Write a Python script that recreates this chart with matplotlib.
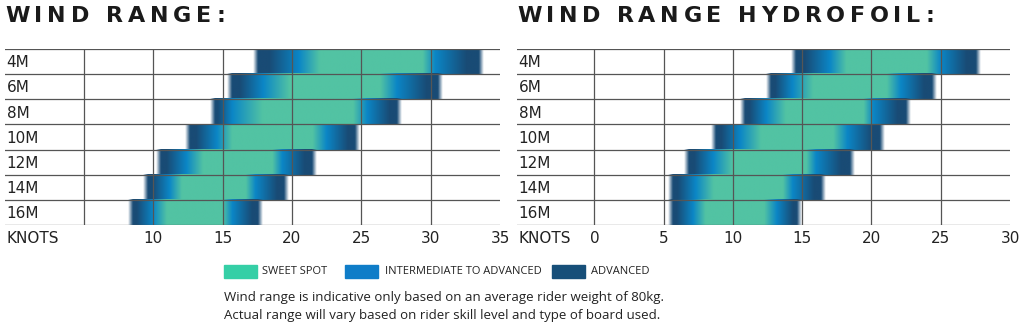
import numpy as np
import matplotlib.pyplot as plt
from matplotlib.colors import to_rgb
from matplotlib.transforms import IdentityTransform

sizes = ['4M', '6M', '8M', '10M', '12M', '14M', '16M']

# kite wind range (knots): outer edge, intermediate peak, sweet spot, ...
kite_start = [17.2, 15.3, 14.1, 12.3, 10.2, 9.3, 8.2]
kite_int_lo = [20.5, 17.9, 15.7, 14.6, 12.4, 11.2, 10.0]
kite_sweet_lo = [22.0, 19.8, 17.9, 15.7, 13.6, 12.1, 11.0]
kite_sweet_hi = [29.4, 26.3, 24.4, 21.5, 18.6, 16.7, 15.0]
kite_int_hi = [30.3, 27.5, 25.4, 22.5, 19.3, 17.4, 15.7]
kite_end = [33.8, 30.8, 27.9, 24.9, 21.8, 19.8, 17.9]

foil_start = [14.2, 12.4, 10.5, 8.4, 6.5, 5.3, 5.3]
foil_int_lo = [17.0, 14.3, 12.4, 10.5, 8.6, 7.3, 7.1]
foil_sweet_lo = [18.2, 15.8, 13.8, 12.0, 10.0, 8.6, 8.0]
foil_sweet_hi = [24.0, 21.1, 19.4, 17.2, 15.3, 13.6, 12.2]
foil_int_hi = [25.0, 22.1, 20.1, 18.2, 16.0, 14.3, 13.1]
foil_end = [27.9, 24.7, 22.8, 20.9, 18.8, 16.7, 14.9]

kite_ticks = [10, 15, 20, 25, 30, 35]
foil_ticks = [0, 5, 10, 15, 20, 25, 30]

dark = to_rgb('#194b75')
blue = to_rgb('#0b86c6')
green = to_rgb('#52c3a3')
txt = '#222222'
gridc = '#555555'


def bar_image(s, il, sl, sh, ih, e, n=600):
    x = np.linspace(s, e, n)
    pos = [s, s + 0.35 * (il - s), il, sl, sh, ih, e - 0.35 * (e - ih), e]
    cols = [dark, dark, blue, green, green, blue, dark, dark]
    rgb = np.stack([np.interp(x, pos, [c[k] for c in cols]) for k in range(3)], axis=-1)
    alpha = np.clip(np.minimum(x - s, e - x) / 0.35, 0, 1)
    return np.concatenate([rgb, alpha[:, None]], axis=1)[None, :, :]


W, H = 1024, 327
fig = plt.figure(figsize=(W / 100, H / 100), dpi=100)


def draw_chart(rect, xlim, lines, ticks, data):
    ax = fig.add_axes(rect)
    for i in range(len(sizes)):
        img = bar_image(*[d[i] for d in data])
        ax.imshow(img, extent=[data[0][i], data[-1][i], i + 1, i], aspect='auto',
                  interpolation='bilinear', zorder=1)
        ax.text(xlim[0] + 0.12, i + 0.55, sizes[i], va='center', ha='left',
                fontsize=11, color=txt)
    for y in range(len(sizes) + 1):
        ax.axhline(y, color=gridc, lw=0.9, zorder=3)
    for v in lines:
        ax.axvline(v, color=gridc, lw=0.9, zorder=3)
    ax.set_xlim(*xlim)
    ax.set_ylim(len(sizes), 0)
    ax.set_yticks([])
    ax.set_xticks(ticks)
    ax.set_xticklabels([str(t) for t in ticks], fontsize=11, color=txt)
    ax.tick_params(axis='x', length=0, pad=4)
    for sp in ax.spines.values():
        sp.set_visible(False)
    ax.text(xlim[0] + 0.12, -0.035, 'KNOTS', transform=ax.get_xaxis_transform(),
            va='top', ha='left', fontsize=11, color=txt)
    return ax


draw_chart([5 / W, 102 / H, 495 / W, 176 / H], (-0.68, 35), [5, 10, 15, 20, 25, 30],
           kite_ticks, [kite_start, kite_int_lo, kite_sweet_lo, kite_sweet_hi, kite_int_hi, kite_end])
draw_chart([517 / W, 102 / H, 493 / W, 176 / H], (-5.58, 30), [0, 5, 10, 15, 20, 25],
           foil_ticks, [foil_start, foil_int_lo, foil_sweet_lo, foil_sweet_hi, foil_int_hi, foil_end])


def spaced_title(x0, ytop, s, target_w, size=16):
    r = fig.canvas.get_renderer()
    widths = []
    for ch in s:
        if ch == ' ':
            widths.append(0)
            continue
        t = fig.text(0, 0, ch, fontsize=size, fontweight='bold', transform=IdentityTransform())
        widths.append(t.get_window_extent(r).width)
        t.remove()
    space_w = size * 100 / 72 * 0.3
    n_sp = s.count(' ')
    gap = (target_w - sum(widths) - n_sp * space_w) / (len(s) - 1)
    x = x0
    for ch, w in zip(s, widths):
        if ch == ' ':
            x += space_w + gap
            continue
        fig.text(x, H - ytop, ch, fontsize=size, fontweight='bold', color='#1a1a1a',
                 va='top', ha='left', transform=IdentityTransform())
        x += w + gap


spaced_title(5, 6, 'WIND RANGE:', 220)
spaced_title(517, 6, 'WIND RANGE HYDROFOIL:', 417)

# legend
leg = [('SWEET SPOT', '#35cfa6', 224, 262), ('INTERMEDIATE TO ADVANCED', '#0f7dc8', 345, 385),
       ('ADVANCED', '#174f79', 552, 591)]
for lab, c, bx, tx in leg:
    fig.patches.append(plt.Rectangle((bx, H - 278), 33, 13, color=c, transform=IdentityTransform()))
    fig.text(tx, H - 271.5, lab, fontsize=8.0, color=txt, va='center', ha='left',
             family='Open Sans', transform=IdentityTransform())

fig.text(224, H - 297, 'Wind range is indicative only based on an average rider weight of 80kg.',
         fontsize=9.5, color=txt, va='center', ha='left', family='Open Sans',
         transform=IdentityTransform())
fig.text(224, H - 316, 'Actual range will vary based on rider skill level and type of board used.',
         fontsize=9.5, color=txt, va='center', ha='left', family='Open Sans',
         transform=IdentityTransform())

fig.savefig('out.png', dpi=100)
